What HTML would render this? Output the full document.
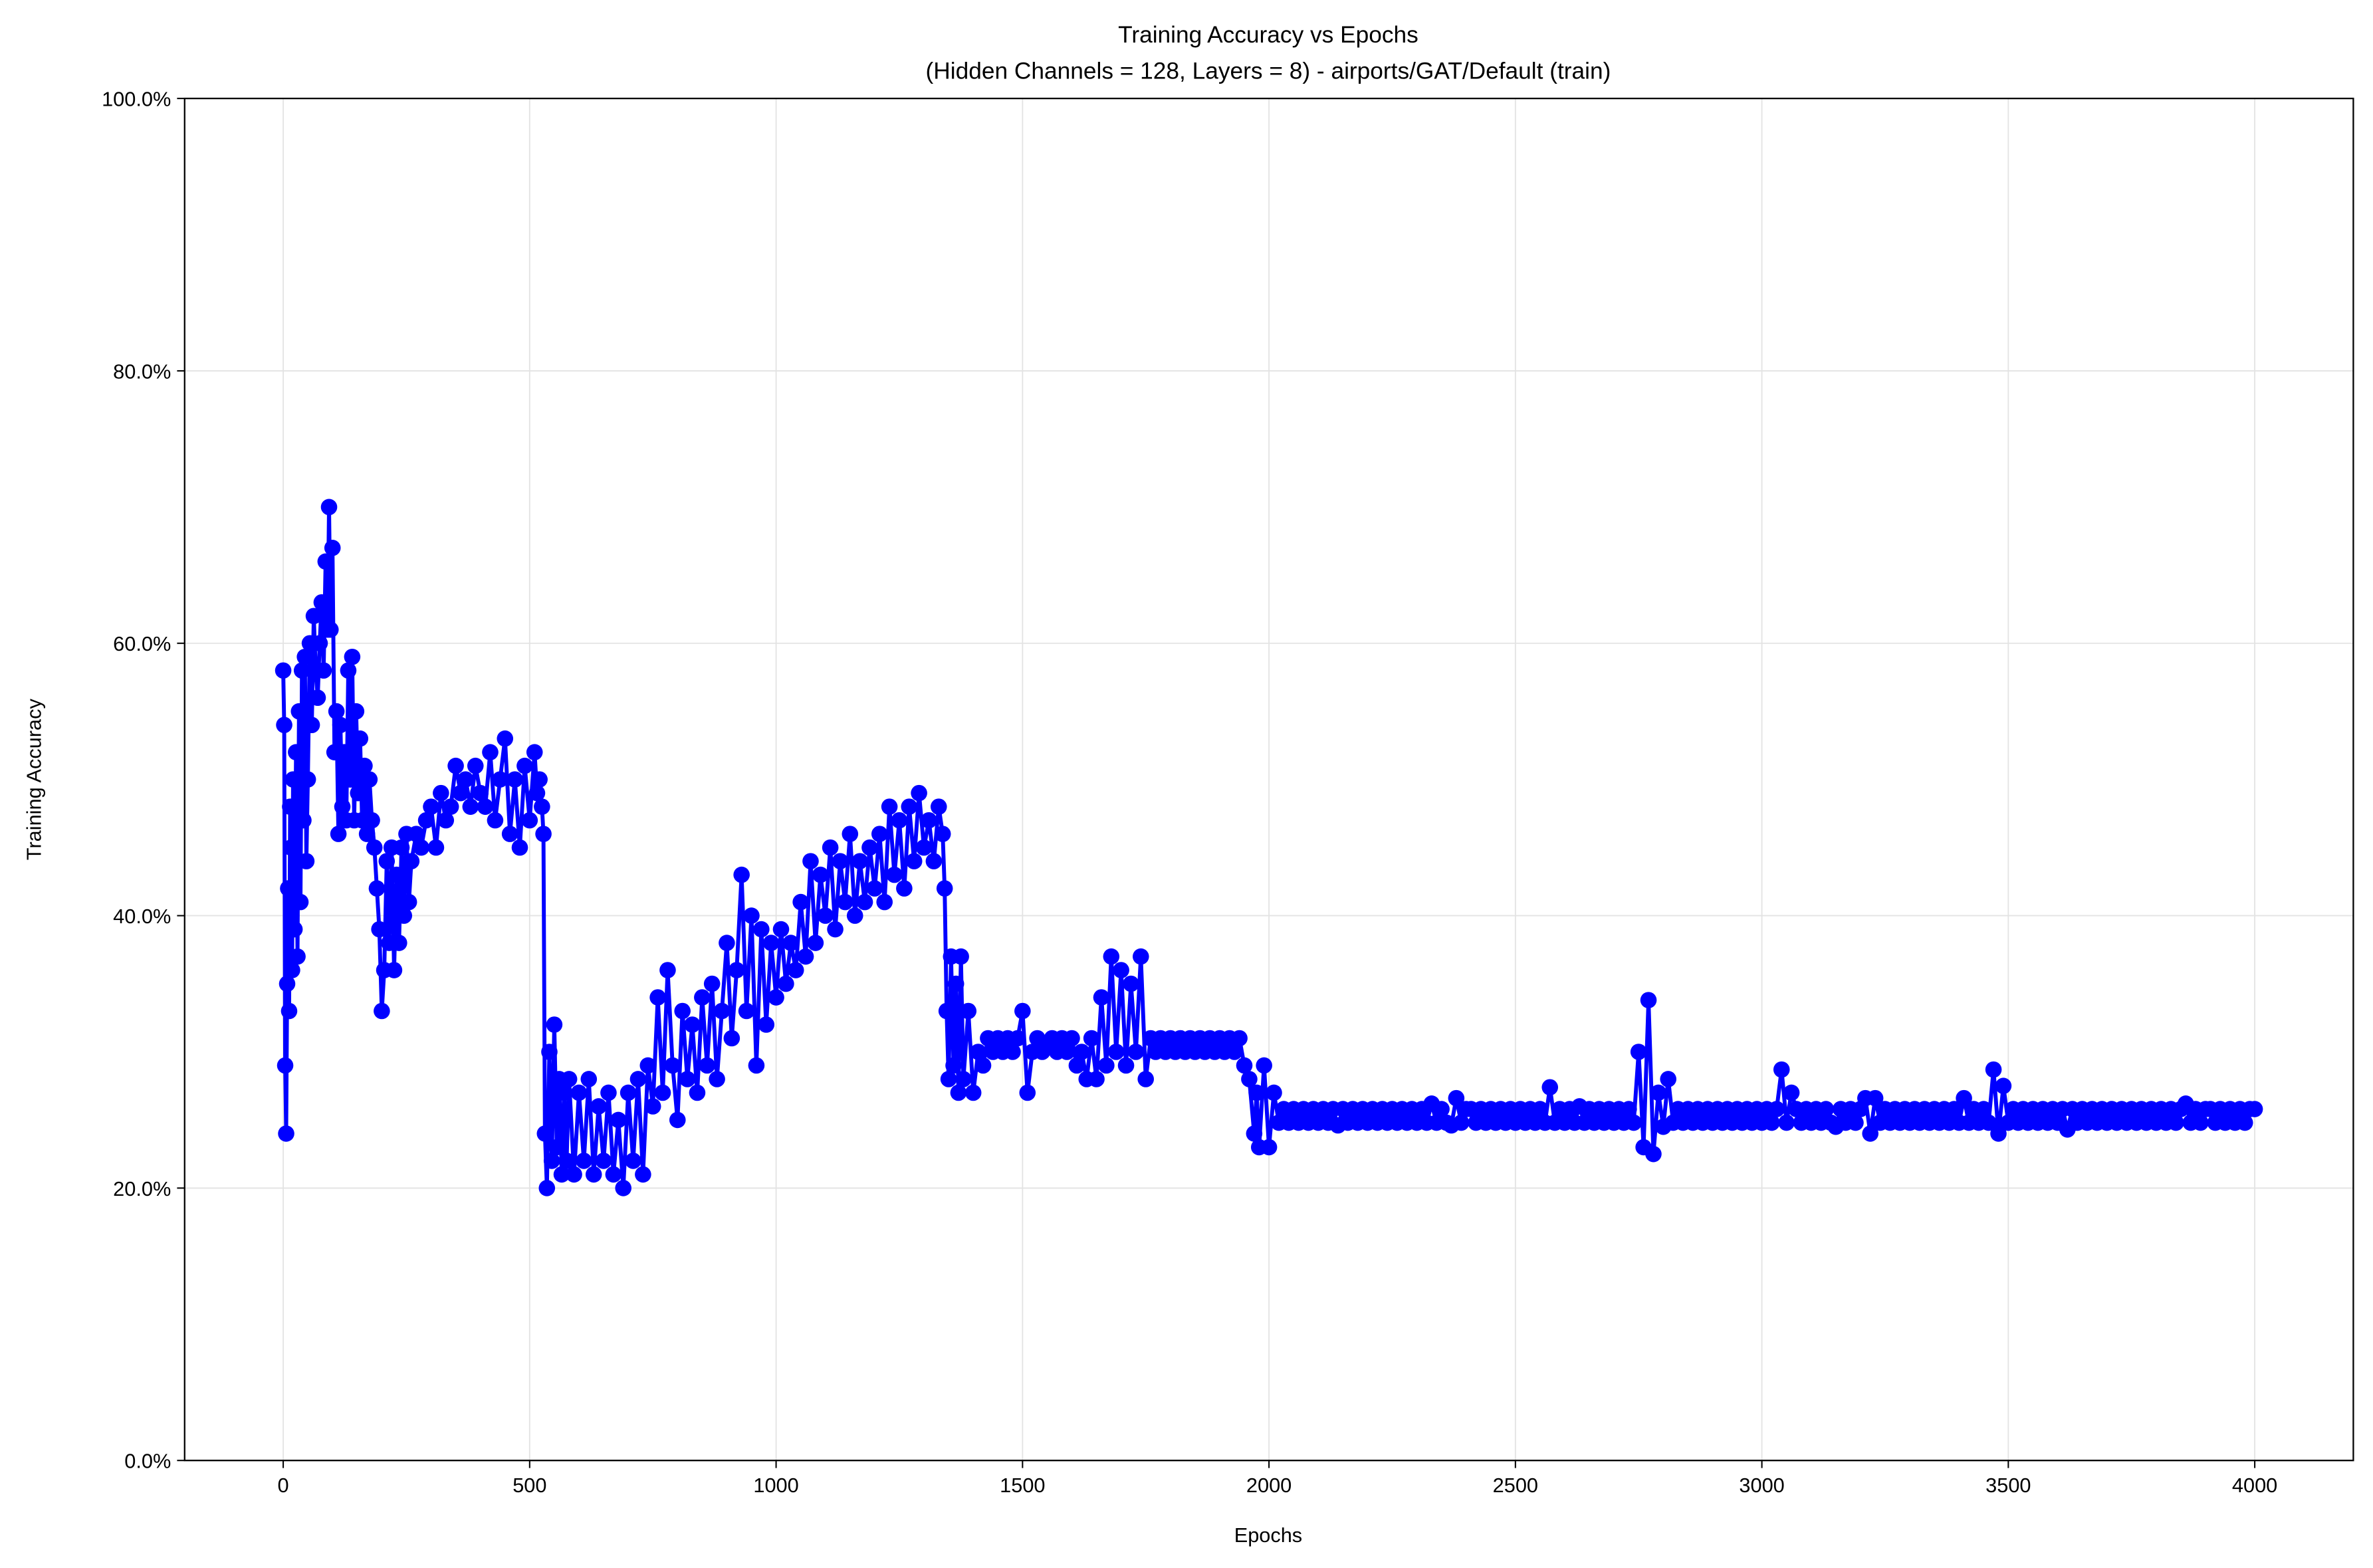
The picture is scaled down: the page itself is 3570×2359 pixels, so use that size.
<!DOCTYPE html>
<html><head><meta charset="utf-8"><style>
html,body{margin:0;padding:0;background:#fff;}
svg{display:block;font-family:"Liberation Sans","DejaVu Sans",sans-serif;}
</style></head><body>
<svg id="chart" width="3570" height="2359" viewBox="0 0 1568 1036" xmlns="http://www.w3.org/2000/svg">
<rect x="0" y="0" width="1568" height="1036" fill="#fff"/>
<g id="grid"></g>
<g id="series"></g>
<rect x="122" y="65" width="1433" height="900" fill="none" stroke="#000" stroke-width="1"/>
<g id="xticks"></g>
<g id="yticks"></g>
<text x="838" y="28" text-anchor="middle" font-size="15.5">Training Accuracy vs Epochs</text>
<text x="838" y="52" text-anchor="middle" font-size="15.5">(Hidden Channels = 128, Layers = 8) - airports/GAT/Default (train)</text>
<text x="838" y="1019" text-anchor="middle" font-size="13.5">Epochs</text>
<text x="27" y="515" text-anchor="middle" font-size="13.5" transform="rotate(-90 27 515)">Training Accuracy</text>
</svg>
<script>
const xTicks=[0,500,1000,1500,2000,2500,3000,3500,4000];
const yTicks=[0,20,40,60,80,100];
const yTickLabels=["0.0%","20.0%","40.0%","60.0%","80.0%","100.0%"];
const epochs=[
0,2,4,6,8,10,12,14,16,18,
20,23,26,29,32,35,38,41,44,47,
50,54,58,62,66,70,74,78,82,86,
90,93,96,100,104,108,112,116,120,124,
128,132,136,140,144,148,152,156,160,165,
170,175,180,185,190,195,200,205,210,215,
220,225,230,235,240,245,250,255,260,270,
280,290,300,310,320,330,340,350,360,370,
380,390,400,410,420,430,440,450,460,470,
480,490,500,510,515,520,525,528,
531,535,540,545,550,555,560,565,570,575,
580,590,600,610,620,630,640,650,660,670,
680,690,700,710,720,730,740,750,760,770,
780,790,800,810,820,830,840,850,860,870,
880,890,900,910,920,930,940,950,960,970,
980,990,1000,1010,1020,1030,1040,1050,1060,1070,
1080,1090,1100,1110,1120,1130,1140,1150,1160,1170,
1180,1190,1200,1210,1220,1230,1240,1250,1260,1270,
1280,1290,1300,1310,1320,1330,1338,
1342,1346,1350,1355,1360,1365,1370,1375,1380,1390,
1400,1410,1420,1430,1440,1450,1460,1470,1480,1490,
1500,1510,1520,1530,1540,1550,1560,1570,1580,1590,
1600,1610,1620,1630,1640,1650,1660,1670,1680,1690,
1700,1710,1720,1730,1740,1750,1760,1770,1780,1790,
1800,1810,1820,1830,1840,1850,1860,1870,1880,1890,
1900,1910,1920,1930,1940,1950,
1960,1970,1975,1980,1990,2000,
2010,2020,2030,2040,2050,2060,2070,2080,2090,2100,
2110,2120,2130,2140,2150,2160,2170,2180,2190,2200,
2210,2220,2230,2240,2250,2260,2270,2280,2290,2300,
2310,2320,2330,2340,2350,2360,2370,2380,2390,2400,
2410,2420,2430,2440,2450,2460,2470,2480,2490,2500,
2510,2520,2530,2540,2550,2560,2570,2580,2590,2600,
2610,2620,2630,2640,2650,2660,2670,2680,2690,2700,
2710,2720,2730,2740,2750,2760,2770,2780,2790,2800,
2810,2820,2830,2840,2850,2860,2870,2880,2890,2900,
2910,2920,2930,2940,2950,2960,2970,2980,2990,3000,
3010,3020,3030,3040,3050,3060,3070,3080,3090,3100,
3110,3120,3130,3140,3150,3160,3170,3180,3190,3200,
3210,3220,3230,3240,3250,3260,3270,3280,3290,3300,
3310,3320,3330,3340,3350,3360,3370,3380,3390,3400,
3410,3420,3430,3440,3450,3460,3470,3480,3490,3500,
3510,3520,3530,3540,3550,3560,3570,3580,3590,3600,
3610,3620,3630,3640,3650,3660,3670,3680,3690,3700,
3710,3720,3730,3740,3750,3760,3770,3780,3790,3800,
3810,3820,3830,3840,3850,3860,3870,3880,3890,3900,
3910,3920,3930,3940,3950,3960,3970,3980,3990,4000];
const accuracy=[
58,54,29,24,35,42,33,48,45,36,
50,39,52,37,55,41,58,47,59,44,
50,60,54,62,58,56,60,63,58,66,
61,70,61,67,52,55,46,54,48,52,
47,58,50,59,47,55,49,53,47,51,
46,50,47,45,42,39,33,36,44,38,
45,36,43,38,45,40,46,41,44,46,
45,47,48,45,49,47,48,51,49,50,
48,51,49,48,52,47,50,53,46,50,
45,51,47,52,49,50,48,46,
24,20,30,22,32,23,28,21,27,22,
28,21,27,22,28,21,26,22,27,21,
25,20,27,22,28,21,29,26,34,27,
36,29,25,33,28,32,27,34,29,35,
28,33,38,31,36,43,33,40,29,39,
32,38,34,39,35,38,36,41,37,44,
38,43,40,45,39,44,41,46,40,44,
41,45,42,46,41,48,43,47,42,48,
44,49,45,47,44,48,46,
42,33,28,37,29,35,27,37,28,33,
27,30,29,31,30,31,30,31,30,31,
33,27,30,31,30,30.5,31,30,31,30,
31,29,30,28,31,28,34,29,37,30,
36,29,35,30,37,28,31,30,31,30,
31,30,31,30,31,30,31,30,31,30,
31,30,31,30,31,29,
28,24,27,23,29,23,
27,24.8,25.8,24.8,25.8,24.8,25.8,24.8,25.8,24.8,
25.8,24.8,25.8,24.6,25.8,24.8,25.8,24.8,25.8,24.8,
25.8,24.8,25.8,24.8,25.8,24.8,25.8,24.8,25.8,24.8,
25.8,24.8,26.2,24.8,25.8,24.8,24.6,26.6,24.8,25.8,
25.8,24.8,25.8,24.8,25.8,24.8,25.8,24.8,25.8,24.8,
25.8,24.8,25.8,24.8,25.8,24.8,27.4,24.8,25.8,24.8,
25.8,24.8,26,24.8,25.8,24.8,25.8,24.8,25.8,24.8,
25.8,24.8,25.8,24.8,30,23,33.8,22.5,27,24.5,
28,24.8,25.8,24.8,25.8,24.8,25.8,24.8,25.8,24.8,
25.8,24.8,25.8,24.8,25.8,24.8,25.8,24.8,25.8,24.8,
25.8,24.8,25.8,28.7,24.8,27,25.8,24.8,25.8,24.8,
25.8,24.8,25.8,24.8,24.5,25.8,24.8,25.8,24.8,25.8,
26.6,24,26.6,24.8,25.8,24.8,25.8,24.8,25.8,24.8,
25.8,24.8,25.8,24.8,25.8,24.8,25.8,24.8,25.8,24.8,
26.6,24.8,25.8,24.8,25.8,24.8,28.7,24,27.5,24.8,
25.8,24.8,25.8,24.8,25.8,24.8,25.8,24.8,25.8,24.8,
25.8,24.3,25.8,24.8,25.8,24.8,25.8,24.8,25.8,24.8,
25.8,24.8,25.8,24.8,25.8,24.8,25.8,24.8,25.8,24.8,
25.8,24.8,25.8,24.8,25.8,26.2,24.8,25.8,24.8,25.8,
25.8,24.8,25.8,24.8,25.8,24.8,25.8,24.8,25.8,25.8];
const NS="http://www.w3.org/2000/svg";
const L=122,R=1555,T=65,B=965,XMIN=-200,XMAX=4200;
function xs(v){return L+(v-XMIN)/(XMAX-XMIN)*(R-L);}
function ys(v){return B-v/100*(B-T);}
function mk(tag,attrs,parent){const e=document.createElementNS(NS,tag);for(const k in attrs)e.setAttribute(k,attrs[k]);parent.appendChild(e);return e;}
const grid=document.getElementById('grid'),xg=document.getElementById('xticks'),yg=document.getElementById('yticks'),sg=document.getElementById('series');
xTicks.forEach(t=>{const x=xs(t);
 const g=mk('line',{x1:x,x2:x,y1:T,y2:B,stroke:'#e3e3e3','stroke-width':0.8},grid);
 
 
 const tk=mk('line',{x1:x,x2:x,y1:B,y2:B+5,stroke:'#000','stroke-width':0.9},xg);
 
 
 const lb=mk('text',{x:x,y:B+21,'text-anchor':'middle','font-size':13.5},xg);
 lb.textContent=String(t);
 
 
});
yTicks.forEach((t,i)=>{const y=ys(t);
 const g=mk('line',{x1:L,x2:R,y1:y,y2:y,stroke:'#e3e3e3','stroke-width':0.8},grid);
 
 
 const tk=mk('line',{x1:L-5,x2:L,y1:y,y2:y,stroke:'#000','stroke-width':0.9},yg);
 
 
 const lb=mk('text',{x:L-9,y:y+5,'text-anchor':'end','font-size':13.5},yg);
 lb.textContent=yTickLabels[i];
 
 
});
let d='';epochs.forEach((e,i)=>{d+=(i?'L':'M')+xs(e).toFixed(2)+' '+ys(accuracy[i]).toFixed(2);});
const line=mk('path',{d:d,fill:'none',stroke:'#0000ff','stroke-width':2.6,'stroke-linejoin':'round'},sg);


epochs.forEach((e,i)=>{
 const c=mk('circle',{cx:xs(e),cy:ys(accuracy[i]),r:5.4,fill:'#0000ff'},sg);
 
 
});
</script>
</body></html>
